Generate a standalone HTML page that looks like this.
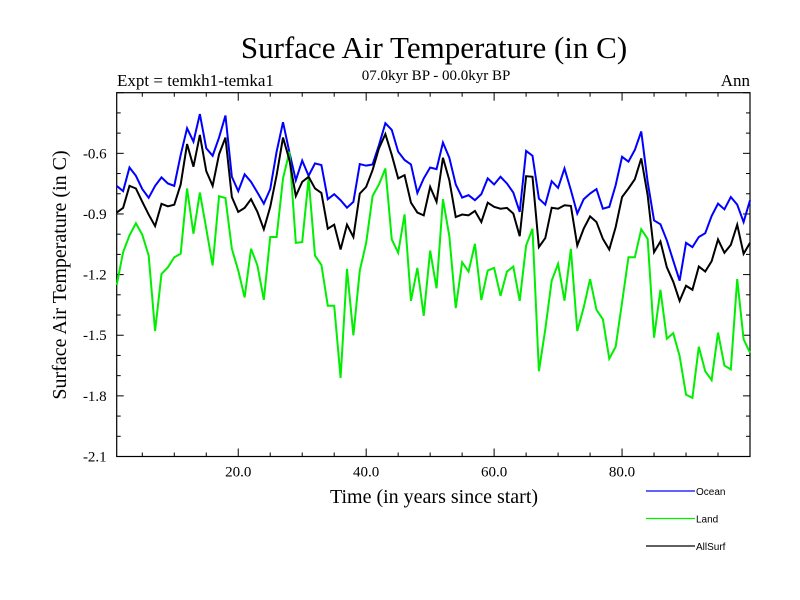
<!DOCTYPE html>
<html><head><meta charset="utf-8"><style>
body{margin:0;background:#fff}
svg{display:block}
text{font-family:"Liberation Serif",serif;fill:#000}
</style></head><body>
<svg id="chart" width="800" height="600" viewBox="0 0 800 600">
<text x="434" y="58" font-size="31" text-anchor="middle">Surface Air Temperature (in C)</text>
<text x="117" y="86" font-size="17">Expt = temkh1-temka1</text>
<text x="436" y="80" font-size="15" text-anchor="middle">07.0kyr BP - 00.0kyr BP</text>
<text x="750" y="86" font-size="17" text-anchor="end">Ann</text>
<text transform="translate(66,275) rotate(-90)" font-size="20" text-anchor="middle">Surface Air Temperature (in C)</text>
<text x="434" y="503" font-size="20" text-anchor="middle">Time (in years since start)</text>
<g id="axes"></g>
<g id="series"></g>
<g id="legend"></g>
</svg>
<script>
const years = Array.from({length:100},(_,i)=>i+1);
const ocean = [-0.761,-0.787,-0.670,-0.711,-0.777,-0.820,-0.761,-0.719,-0.749,-0.761,
-0.608,-0.476,-0.542,-0.406,-0.575,-0.612,-0.522,-0.413,-0.716,-0.787,
-0.704,-0.741,-0.794,-0.849,-0.777,-0.592,-0.446,-0.595,-0.733,-0.636,
-0.711,-0.650,-0.658,-0.827,-0.802,-0.832,-0.869,-0.840,-0.653,-0.661,
-0.655,-0.559,-0.451,-0.484,-0.592,-0.633,-0.655,-0.796,-0.724,-0.670,
-0.678,-0.547,-0.622,-0.754,-0.819,-0.807,-0.832,-0.802,-0.724,-0.754,
-0.716,-0.749,-0.794,-0.890,-0.588,-0.612,-0.824,-0.854,-0.738,-0.771,
-0.675,-0.782,-0.898,-0.827,-0.799,-0.777,-0.874,-0.865,-0.758,-0.617,
-0.641,-0.583,-0.492,-0.741,-0.932,-0.951,-1.031,-1.131,-1.230,-1.043,
-1.064,-1.014,-0.995,-0.910,-0.849,-0.877,-0.816,-0.854,-0.940,-0.832];
const land = [-1.252,-1.089,-1.006,-0.946,-1.003,-1.106,-1.479,-1.197,-1.164,-1.114,
-1.097,-0.774,-0.998,-0.794,-0.973,-1.155,-0.812,-0.821,-1.072,-1.180,
-1.313,-1.072,-1.155,-1.325,-1.014,-1.014,-0.724,-0.592,-1.043,-1.039,
-0.724,-1.106,-1.152,-1.354,-1.354,-1.711,-1.172,-1.500,-1.180,-1.043,
-0.811,-0.754,-0.675,-1.026,-1.092,-0.902,-1.330,-1.167,-1.404,-1.081,
-1.268,-0.827,-1.010,-1.366,-1.139,-1.185,-1.048,-1.326,-1.180,-1.167,
-1.305,-1.185,-1.160,-1.330,-1.056,-0.973,-1.678,-1.470,-1.230,-1.147,
-1.329,-1.073,-1.479,-1.363,-1.222,-1.374,-1.421,-1.616,-1.557,-1.338,
-1.114,-1.114,-0.976,-1.023,-1.512,-1.275,-1.517,-1.490,-1.603,-1.794,
-1.810,-1.557,-1.678,-1.722,-1.487,-1.650,-1.669,-1.222,-1.520,-1.587];
const allsurf = [-0.893,-0.870,-0.761,-0.774,-0.840,-0.903,-0.960,-0.850,-0.862,-0.854,
-0.754,-0.554,-0.666,-0.509,-0.688,-0.761,-0.605,-0.522,-0.816,-0.890,
-0.870,-0.827,-0.890,-0.976,-0.865,-0.708,-0.522,-0.633,-0.811,-0.741,
-0.716,-0.774,-0.796,-0.973,-0.953,-1.076,-0.953,-1.014,-0.799,-0.766,
-0.683,-0.575,-0.505,-0.608,-0.724,-0.708,-0.844,-0.893,-0.907,-0.766,
-0.840,-0.622,-0.733,-0.915,-0.903,-0.907,-0.885,-0.940,-0.844,-0.865,
-0.874,-0.870,-0.898,-1.010,-0.713,-0.716,-1.064,-1.019,-0.869,-0.874,
-0.857,-0.860,-1.056,-0.973,-0.912,-0.940,-1.023,-1.076,-0.965,-0.816,
-0.774,-0.728,-0.625,-0.807,-1.089,-1.036,-1.164,-1.235,-1.330,-1.255,
-1.275,-1.160,-1.185,-1.134,-1.026,-1.092,-1.053,-0.953,-1.097,-1.043];
const yTicks = [-0.6,-0.9,-1.2,-1.5,-1.8,-2.1];
const yTickLabels = ["-0.6","-0.9","-1.2","-1.5","-1.8","-2.1"];
const xTicks = [20,40,60,80];
const xTickLabels = ["20.0","40.0","60.0","80.0"];
const seriesNames = ["Ocean","Land","AllSurf"];
const seriesColors = ["#0000ff","#00ee00","#000000"];

const L=116.7,R=750,T=92.7,B=456.5;
const X0=1,X1=100,Y0=-2.1,Y1=-0.3;
const sx=v=>L+(v-X0)/(X1-X0)*(R-L);
const sy=v=>B-(v-Y0)/(Y1-Y0)*(B-T);
const NS="http://www.w3.org/2000/svg";
function mk(tag,attrs,parent){const e=document.createElementNS(NS,tag);for(const k in attrs)e.setAttribute(k,attrs[k]);parent.appendChild(e);return e;}
const axes=document.getElementById('axes');
let frame=mk('rect',{x:L,y:T,width:R-L,height:B-T,fill:'none',stroke:'#000','stroke-width':1.2},axes);


// y minor/major ticks
for(let k=0;k<=18;k++){
  const v=Y0+k*0.1;const y=sy(v);const major=(k%3===0);
  const len=major?7:4;
  let t1=mk('line',{x1:L,x2:L+len,y1:y,y2:y,stroke:'#000','stroke-width':1},axes);
  
  
  let t2=mk('line',{x1:R,x2:R-len,y1:y,y2:y,stroke:'#000','stroke-width':1},axes);
  
  
}
yTicks.forEach((v,i)=>{
  let t=mk('text',{x:L-10,y:sy(v)+5,'font-size':15,'text-anchor':'end'},axes);
  t.textContent=yTickLabels[i];
  
  
});
for(let v=5;v<=100;v+=5){
  const x=sx(v);const major=(v%20===0);const len=major?8:4;
  let t1=mk('line',{x1:x,x2:x,y1:B,y2:B-len,stroke:'#000','stroke-width':1},axes);
  
  
  let t2=mk('line',{x1:x,x2:x,y1:T,y2:T+len,stroke:'#000','stroke-width':1},axes);
  
  
}
xTicks.forEach((v,i)=>{
  let t=mk('text',{x:sx(v),y:B+20,'font-size':15,'text-anchor':'middle'},axes);
  t.textContent=xTickLabels[i];
  
  
});
const ser=document.getElementById('series');
[ocean,land,allsurf].forEach((arr,si)=>{
  const d=arr.map((v,i)=>(i?'L':'M')+sx(years[i]).toFixed(2)+','+sy(v).toFixed(2)).join('');
  let p=mk('path',{d:d,fill:'none',stroke:seriesColors[si],'stroke-width':2,'stroke-linejoin':'miter'},ser);
  
  
});
const leg=document.getElementById('legend');
seriesNames.forEach((n,i)=>{
  const y=491+i*27.5;
  let l=mk('line',{x1:646,x2:695,y1:y,y2:y,stroke:seriesColors[i],'stroke-width':1.3},leg);
  
  
  let t=mk('text',{x:696,y:y+4,'font-size':10,style:'font-family:"Liberation Sans",sans-serif'},leg);
  t.textContent=n;
  
  
});
</script>
</body></html>
